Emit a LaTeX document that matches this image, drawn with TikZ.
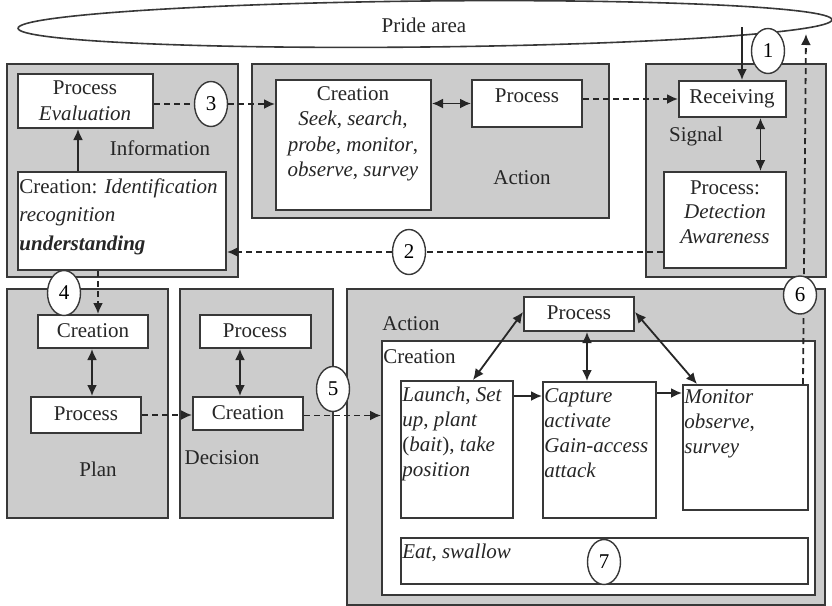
\documentclass[tikz,border=0pt]{standalone}
\usepackage{fontspec}
\setmainfont{Liberation Serif}
\usetikzlibrary{shapes.geometric,arrows.meta,fit,calc}

\definecolor{panelgray}{gray}{0.80}
\definecolor{edge}{gray}{0.22}

% Rectangle node spanning two corner points
\newcommand\rectnode[6]{%
  \path (#2,#3) coordinate (#1-a) (#4,#5) coordinate (#1-b);
  \node[fit=(#1-a)(#1-b), inner sep=0pt, #6] (#1) {};}

\tikzset{
  panel/.style={draw=edge, fill=panelgray, line width=1pt},
  wbox/.style={draw=edge, fill=white, line width=1pt},
  num/.style={ellipse, draw=edge, fill=white, line width=0.7pt,
    minimum width=16.5pt, minimum height=22.5pt, inner sep=0pt},
  txt/.style={inner sep=0pt, text=black!85},
  tip/.tip={Latex[length=5.5pt,width=5pt]},
  arr/.style={-tip, line width=0.9pt, draw=black!85},
  darr/.style={tip-tip, line width=0.9pt, draw=black!85},
  dsh/.style={line width=0.9pt, draw=black!85, dash pattern=on 3pt off 2pt},
}

\begin{document}
\begin{tikzpicture}[x=0.5pt, y=-0.5pt, font=\fontsize{10.5}{12.5}\selectfont]
\useasboundingbox (0,0) rectangle (832,606);

% Pride area
\node[ellipse, draw=edge, line width=0.8pt, minimum width=407pt, minimum height=23pt,
  inner sep=0pt, rotate=0.6] (pride) at (425,24) {};
\node[txt] (pridetxt) at (424,25) {Pride area};

% Grey panels
\rectnode{info}{7}{64}{238}{277}{panel}
\rectnode{act1}{252}{64}{609}{218}{panel}
\rectnode{signal}{646}{64}{826}{277}{panel}
\rectnode{plan}{7}{289}{168}{518}{panel}
\rectnode{decision}{180}{289}{333}{518}{panel}
\rectnode{act2}{347}{289}{825}{605}{panel}

% Information
\rectnode{eval}{18}{74}{153}{128}{wbox}
\rectnode{ident}{18}{172}{226}{270}{wbox}
\node[txt, align=center, font=\fontsize{10.5}{13}\selectfont] (evaltxt) at (85,101)
  {Process\\\textit{Evaluation}};
\node[txt] (infotxt) at (160,148) {Information};
\node[txt, align=left, anchor=north west, font=\fontsize{10.5}{14.3}\selectfont] (identtxt) at (19,178)
  {Creation: \textit{Identification}\\\textit{recognition}\\\textbf{\textit{understanding}}};

% Action (seek)
\rectnode{seek}{276}{80}{431}{210}{wbox}
\rectnode{proc1}{472}{80}{582}{127}{wbox}
\node[txt, align=center, font=\fontsize{10.5}{12.7}\selectfont] (seektxt) at (353,134)
  {Creation\\\textit{Seek}, \textit{search},\\\textit{probe}, \textit{monitor},\\\textit{observe}, \textit{survey}};
\node[txt] (proc1txt) at (527,96) {Process};
\node[txt] (act1txt) at (522,178) {Action};

% Signal
\rectnode{recv}{679}{81}{786}{117}{wbox}
\rectnode{detect}{664}{172}{786}{268}{wbox}
\node[txt] (recvtxt) at (732,99) {Receiving};
\node[txt] (signaltxt) at (696,136) {Signal};
\node[txt, align=center, font=\fontsize{10.5}{12.3}\selectfont] (detecttxt) at (725,212)
  {Process:\\\textit{Detection}\\\textit{Awareness}};

% Plan
\rectnode{plancr}{38}{315}{148}{348}{wbox}
\rectnode{planpr}{31}{397}{141}{433}{wbox}
\node[txt] (plancrtxt) at (93,331) {Creation};
\node[txt] (planprtxt) at (86,414) {Process};
\node[txt] (plantxt) at (98,469) {Plan};

% Decision
\rectnode{decpr}{200}{315}{311}{348}{wbox}
\rectnode{deccr}{193}{397}{303}{430}{wbox}
\node[txt] (decprtxt) at (255,331) {Process};
\node[txt] (deccrtxt) at (248,413) {Creation};
\node[txt] (dectxt) at (222,458) {Decision};

% Action (capture)
\rectnode{aproc}{524}{297}{634}{331}{wbox}
\rectnode{actcr}{382}{341}{815}{595}{wbox}
\rectnode{launch}{401}{381}{513}{518}{wbox}
\rectnode{capture}{543}{382}{656}{518}{wbox}
\rectnode{monitor}{683}{385}{808}{510}{wbox}
\rectnode{eat}{401}{538}{808}{584}{wbox}
\node[txt] (aproctxt) at (579,313) {Process};
\node[txt, anchor=west] (act2txt) at (382,324) {Action};
\node[txt, anchor=west] (actcrtxt) at (383,357) {Creation};
\node[txt, align=left, anchor=north west] (launchtxt) at (402,387)
  {\textit{Launch}, \textit{Set}\\\textit{up}, \textit{plant}\\(\textit{bait}), \textit{take}\\\textit{position}};
\node[txt, align=left, anchor=north west] (capturetxt) at (544,388)
  {\textit{Capture}\\\textit{activate}\\\textit{Gain-access}\\\textit{attack}};
\node[txt, align=left, anchor=north west] (monitortxt) at (684,389)
  {\textit{Monitor}\\\textit{observe},\\\textit{survey}};
\node[txt, anchor=west] (eattxt) at (402,553) {\textit{Eat}, \textit{swallow}};

% Connectors
\draw[arr] ([xshift=30.5pt]ident.north west) -- ([xshift=30.5pt]ident.north west |- eval.south);
\draw[darr] (proc1.west -| seek.east) -- (proc1.west);
\draw[dsh, arr] (recv.west -| proc1.east) -- (recv.west);
\draw[darr] ([xshift=14pt]recv.south) -- ([xshift=14pt]recv.south |- detect.north);
\coordinate (in1) at (742,27);
\draw[arr] (in1) -- (in1 |- recv.north);
\draw[dsh, arr] ([xshift=-12pt]ident.south) -- ([xshift=-12pt]ident.south |- plancr.north);
\draw[darr] ([xshift=-0.5pt]plancr.south) -- ([xshift=-0.5pt]plancr.south |- planpr.north);
\draw[dsh, arr] (planpr.east) -- (planpr.east -| deccr.west);
\draw[darr] ([xshift=-7.75pt]decpr.south) -- ([xshift=-7.75pt]decpr.south |- deccr.north);
\draw[dsh, arr] ([yshift=-1pt]deccr.east) -- ([yshift=-1pt]deccr.east -| actcr.west);
\draw[darr] ([yshift=1pt]aproc.west) -- ([xshift=8pt]launch.north);
\draw[darr] ([xshift=4pt]aproc.south) -- ([xshift=4pt]aproc.south |- capture.north);
\draw[darr] ([yshift=1pt]aproc.east) -- ([xshift=7.5pt]monitor.north west);
\draw[arr] ([yshift=-8pt]launch.north east) -- ([yshift=-8pt]launch.north east -| capture.west);
\draw[arr] ([yshift=-6pt]capture.north east) -- ([yshift=-6pt]capture.north east -| monitor.west);
\coordinate (top6) at (806,34);
\draw[dsh, arr] ([xshift=-3pt]monitor.north east) -- (top6);

% Numbered markers
\node[num] (c1) at (768,51) {1};
\node[num] (c3) at (211,104) {3};
\node[num] (c2) at (409,252) {2};
\node[num] (c4) at (64,293) {4};
\node[num] (c5) at (333,389) {5};
\node[num, minimum height=19pt] (c6) at (800,295) {6};
\node[num] (c7) at (604,562) {7};

\draw[dsh] (eval.east |- c3) -- (c3.west);
\draw[dsh, arr] (c3.east) -- (c3.east -| seek.west);
\draw[dsh] (detect.west |- c2) -- (c2.east);
\draw[dsh, arr] (c2.west) -- (c2.west -| ident.east);
\end{tikzpicture}
\end{document}
